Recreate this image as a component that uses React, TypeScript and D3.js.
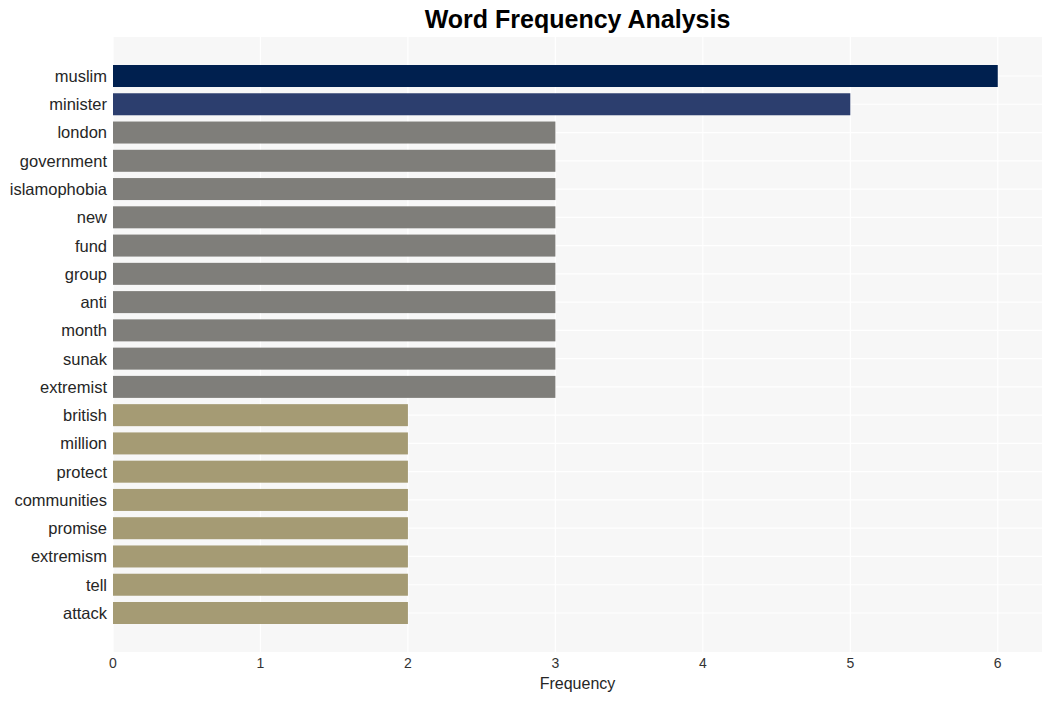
import React from "react";
import * as d3 from "d3";

const words = ["muslim","minister","london","government","islamophobia","new","fund","group","anti","month","sunak","extremist","british","million","protect","communities","promise","extremism","tell","attack"];
const counts = [6,5,3,3,3,3,3,3,3,3,3,3,2,2,2,2,2,2,2,2];
const xTicks = [0,1,2,3,4,5,6];

const W = 1052, H = 701;
const left = 113, right = 1042, top = 37, bottom = 652;

function colorFor(i: number, v: number) {
  if (i === 0) return "#00204f";
  if (i === 1) return "#2c3e6e";
  if (v === 3) return "#7f7e7a";
  return "#a59b74";
}

export default function App() {
  const x = d3.scaleLinear().domain([0, 6.3]).range([left, right]);
  const y = d3.scalePoint<string>().domain(words).range([top, bottom]).padding(1.38);
  const barH = 22;
  const font = "'Liberation Sans', Arial, Helvetica, sans-serif";
  return (
    <svg width={W} height={H} style={{ position: "absolute", left: 0, top: 0, fontFamily: font }}>
      <rect x={0} y={0} width={W} height={H} fill="#ffffff" />
      <rect x={left} y={top} width={right - left} height={bottom - top} fill="#f7f7f7" />
      {xTicks.map((t) => (
        <line key={"g" + t} x1={x(t)} x2={x(t)} y1={top} y2={bottom} stroke="#ffffff" strokeWidth={1.2} />
      ))}
      {words.map((w) => (
        <line key={"h" + w} x1={left} x2={right} y1={y(w)!} y2={y(w)!} stroke="#ffffff" strokeWidth={1.2} />
      ))}
      {words.map((w, i) => (
        <rect key={w} x={x(0)} y={y(w)! - barH / 2} width={x(counts[i]) - x(0)} height={barH} fill={colorFor(i, counts[i])} />
      ))}
      {words.map((w) => (
        <text key={"l" + w} x={107} y={y(w)!} dy="0.36em" textAnchor="end" fontSize={16.5} fill="#262626">{w}</text>
      ))}
      {xTicks.map((t) => (
        <text key={"t" + t} x={x(t)} y={668} textAnchor="middle" fontSize={14} fill="#333333">{t}</text>
      ))}
      <text x={(left + right) / 2} y={689} textAnchor="middle" fontSize={16} fill="#262626">Frequency</text>
      <text x={(left + right) / 2} y={28} textAnchor="middle" fontSize={25} fontWeight="bold" fill="#000000">Word Frequency Analysis</text>
    </svg>
  );
}
